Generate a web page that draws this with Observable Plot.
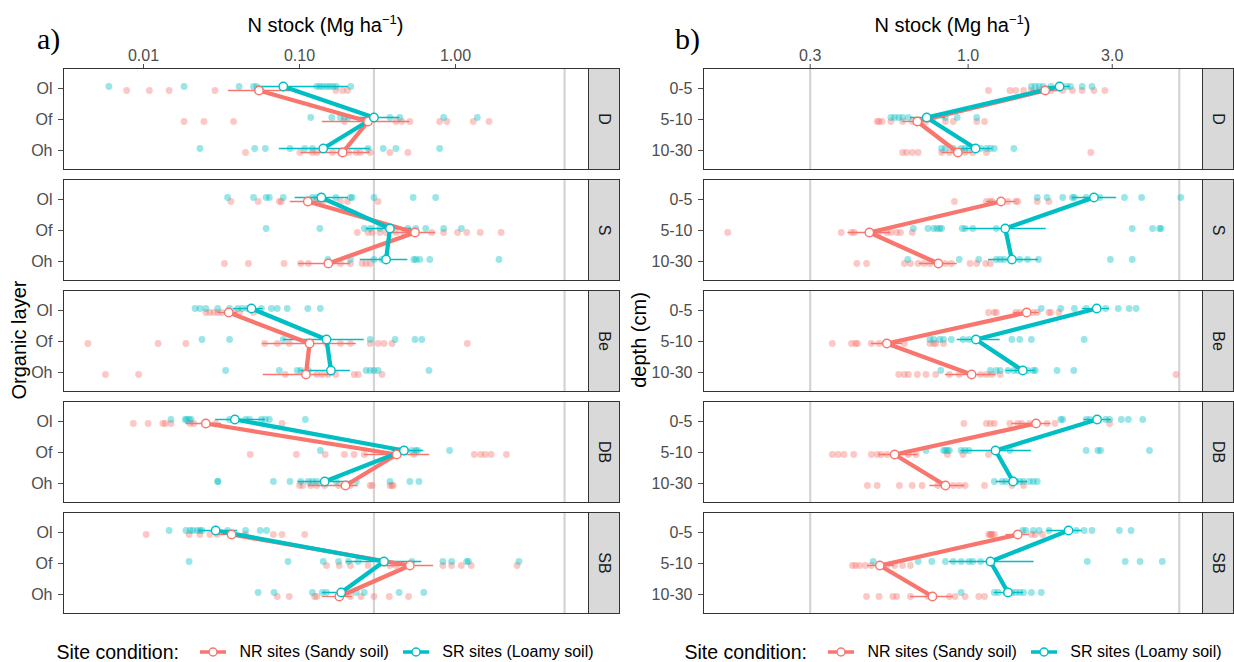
<!DOCTYPE html>
<html>
<head>
<meta charset="utf-8">
<script src="https://cdn.jsdelivr.net/npm/d3@7"></script>
<script src="https://cdn.jsdelivr.net/npm/@observablehq/plot@0.6"></script>
<style>
  html, body { margin: 0; padding: 0; background: white; }
  #wrap { position: relative; width: 1234px; height: 662px; font-family: "Liberation Sans", Arial, sans-serif; overflow: hidden; }
  .panel { position: absolute; top: 0; }
  .legend { position: absolute; top: 636px; height: 32px; width: 800px; display: flex; align-items: center; justify-content: center; color: #000; white-space: nowrap; }
  .legend .lt { font-size: 19.5px; margin-right: 21px; }
  .legend .li { font-size: 16px; margin-left: 13.5px; margin-right: 14px; }
  .legend .li:last-child { margin-right: 0; }
  .legend svg { display: block; }
</style>
</head>
<body>
<div id="wrap">
  <div id="pa" class="panel" style="left:0px"></div>
  <div id="pb" class="panel" style="left:620px"></div>
  <div id="la" class="legend" style="left:-75px"></div>
  <div id="lb" class="legend" style="left:553px"></div>
</div>
<script>
// ---------------- data ----------------
const facets = ["D", "S", "Be", "DB", "SB"];
const layersA = ["Ol", "Of", "Oh"];
const depthsB = ["0-5", "5-10", "10-30"];
const sites = ["NR", "SR"];
const siteLabels = ["NR sites (Sandy soil)", "SR sites (Loamy soil)"];
const legendTitle = "Site condition:";
const refLines = [0.3, 5];
const xTicksA = [0.01, 0.1, 1];
const xTicksB = [0.3, 1, 3];

// panel a raw values [facet][layer]
const rawA_NR = [
  [[0.0078,0.0109,0.0146,0.0287,0.0537,0.057,0.171,0.189,0.203],
   [0.0182,0.0244,0.0378,0.194,0.415,0.453,0.51,0.791,0.88,1.30,1.64],
   [0.0451,0.1006,0.121,0.129,0.163,0.183,0.206,0.231,0.245,0.284,0.38,0.495]],
  [[0.0363,0.0543,0.0742,0.0764,0.129,0.14,0.183,0.203,0.319],
   [0.235,0.275,0.292,0.328,0.359,0.415,0.467,0.51,0.704,0.839,1.03,1.18,1.44,1.96],
   [0.033,0.047,0.0796,0.1018,0.114,0.183,0.212,0.252,0.267,0.284]],
  [[0.0251,0.0266,0.0282,0.0299,0.0317,0.0378,0.0413,0.0507],
   [0.0044,0.0124,0.0187,0.0597,0.072,0.0859,0.149,0.183,0.212,0.284,0.319,0.348,0.392,1.19],
   [0.0057,0.0093,0.081,0.129,0.14,0.153,0.171,0.224,0.238,0.338]],
  [[0.0086,0.0107,0.0133,0.0138,0.015,0.0199,0.021,0.029,0.0773],
   [0.0483,0.0955,0.146,0.194,0.224,0.26,0.541,1.32,1.45,1.55,1.69,2.12],
   [0.1,0.1048,0.118,0.129,0.145,0.178,0.212,0.284,0.292,0.38,0.392,0.398]],
  [[0.0104,0.0196,0.023,0.0266,0.0295,0.0451,0.068,0.0773,0.108],
   [0.149,0.18,0.212,0.275,0.38,0.415,0.83,0.944,1.09,1.26,2.48],
   [0.072,0.0859,0.125,0.129,0.212,0.248,0.30,0.376,0.5]]
];
const rawA_SR = [
  [[0.006,0.0182,0.041,0.0507,0.0531,0.129,0.135,0.141,0.149,0.156,0.164,0.172,0.213],
   [0.118,0.161,0.183,0.194,0.206,0.38,0.44,0.839,1.38],
   [0.023,0.0516,0.0604,0.0869,0.108,0.121,0.275,0.344,0.415,0.791]],
  [[0.0346,0.0507,0.0611,0.0641,0.0787,0.121,0.129,0.171,0.212,0.218,0.30,0.535,0.746],
   [0.0611,0.135,0.26,0.284,0.328,0.495,0.557,0.644,0.839,1.09],
   [0.152,0.212,0.30,0.338,0.541,0.557,0.59,0.684,1.90]],
  [[0.0214,0.023,0.0251,0.0299,0.0356,0.0401,0.043,0.0464,0.057,0.066,0.072,0.0834,0.113,0.136],
   [0.0237,0.0356,0.0787,0.284,0.41,0.55,0.608],
   [0.0336,0.0742,0.0966,0.1018,0.114,0.267,0.284,0.30,0.319,0.676]],
  [[0.015,0.0185,0.0189,0.0196,0.0202,0.0356,0.0451,0.0478,0.057,0.0604,0.0641,0.109],
   [0.136,0.44,0.48,0.525,0.557,0.573,0.916],
   [0.0299,0.030,0.068,0.0869,0.1018,0.114,0.121,0.129,0.172,0.231,0.38,0.51,0.583]],
  [[0.0146,0.0187,0.0199,0.0207,0.0221,0.023,0.0237,0.0346,0.0451,0.056,0.0615],
   [0.0196,0.0844,0.142,0.178,0.206,0.238,0.525,0.83,0.944,1.18,1.21,2.55],
   [0.0543,0.0687,0.121,0.14,0.149,0.231,0.26,0.435,0.626]]
];
const meanA_NR = [[0.055,0.275,0.189],[0.113,0.55,0.153],[0.0352,0.116,0.11],[0.0251,0.42,0.197],[0.0367,0.51,0.18]];
const meanA_SR = [[0.0787,0.30,0.142],[0.138,0.38,0.359],[0.0492,0.149,0.159],[0.0385,0.467,0.145],[0.029,0.348,0.185]];
const loA_NR = [[0.035,0.14,0.102],[0.0873,0.38,0.099],[0.0299,0.058,0.0586],[0.0187,0.26,0.114],[0.029,0.328,0.14]];
const hiA_NR = [[0.087,0.51,0.284],[0.153,0.746,0.212],[0.0401,0.231,0.168],[0.0317,0.684,0.238],[0.0451,0.724,0.218]];
const loA_SR = [[0.053,0.206,0.0742],[0.0938,0.267,0.245],[0.0378,0.0787,0.1018],[0.029,0.392,0.0978],[0.0225,0.2,0.14]];
const hiA_SR = [[0.206,0.44,0.284],[0.206,0.525,0.495],[0.0586,0.26,0.212],[0.0604,0.626,0.218],[0.0401,0.608,0.224]];

// panel b raw values [facet][depth]
const rawB_NR = [
  [[1.168,1.375,1.438,1.526,1.62,1.72,1.88,2.057,2.215,2.386,2.61,2.837],
   [0.5,0.507,0.519,0.555,0.607,0.653,0.725,0.841,0.893,1.068,1.133],
   [0.607,0.625,0.653,0.683,0.817,0.867,0.977,1.036,1.15,2.548]],
  [[0.901,1.15,1.185,1.2,1.355,1.438,1.46,1.694,1.852],
   [0.16,0.38,0.411,0.42,0.492,0.507,0.538,0.555,0.58,0.597,0.653],
   [0.428,0.461,0.615,0.644,0.683,0.714,0.747,0.841,0.88,1.015,1.068,1.143,1.185]],
  [[1.168,1.221,1.239,1.438,1.482,1.644,1.694,1.852,1.88,1.996],
   [0.355,0.411,0.424,0.43,0.478,0.507,0.615,0.747,0.769,0.781,0.829],
   [0.589,0.615,0.634,0.679,0.725,0.781,0.867,0.934,1.1,1.15,1.196,1.277,4.878]],
  [[0.968,1.15,1.185,1.221,1.375,1.46,1.504,1.596,1.825,1.938,2.94],
   [0.355,0.371,0.388,0.418,0.478,0.5,0.515,0.538,0.634,0.673,0.854,0.962,1.168],
   [0.464,0.5,0.592,0.653,0.704,0.793,0.893,0.934,0.977,1.133,1.396,1.526]],
  [[1.168,1.185,1.19,1.2,1.221,1.62,1.669,1.762],
   [0.414,0.424,0.437,0.457,0.478,0.538,0.571,0.607,0.644],
   [0.461,0.507,0.563,0.58,0.644,0.736,0.867,0.906,0.977,1.084,1.133]]
];
const rawB_SR = [
  [[1.62,1.669,1.72,1.772,1.88,2.118,2.182,2.386,2.571],
   [0.555,0.571,0.589,0.607,0.634,0.769,0.841,0.92,1.068],
   [0.817,0.841,0.893,0.948,0.977,1.006,1.1,1.15,1.185,1.221,1.417]],
  [[1.694,1.825,2.057,2.215,2.248,2.459,2.729,3.293,3.753,5.056],
   [0.659,0.736,0.769,0.788,0.805,0.817,0.956,0.977,1.036,1.239,3.494,4.08,4.304,4.356],
   [0.631,0.934,1.084,1.239,1.277,1.315,1.482,1.573,1.71,2.958,3.494]],
  [[1.746,2.026,2.248,2.459,2.854,3.14,3.412,3.6],
   [0.747,0.769,0.805,0.829,0.88,0.962,1.006,1.396,1.482,1.62,2.422],
   [0.812,1.185,1.239,1.277,1.355,1.417,1.46,1.573,1.644,1.669,1.97,2.237]],
  [[2.026,2.057,2.459,2.533,2.854,2.94,3.216,3.392,3.787],
   [0.725,0.829,0.841,0.854,0.867,0.948,0.977,1.006,1.375,2.459,2.689,2.745,3.985],
   [1.221,1.296,1.335,1.438,1.482,1.526,1.596,1.644,1.694]],
  [[1.517,1.55,1.644,1.72,1.852,2.282,2.422,2.571,3.168,3.463],
   [0.485,0.683,0.758,0.841,0.893,0.948,1.006,1.036,1.1,2.481,3.312,3.709,4.395],
   [0.948,1.221,1.258,1.335,1.396,1.438,1.482,1.526,1.62,1.746]]
];
const meanB_NR = [[1.8,0.679,0.925],[1.285,0.471,0.797],[1.563,0.538,1.027],[1.679,0.571,0.841],[1.46,0.51,0.762]];
const meanB_SR = [[2.008,0.729,1.058],[2.61,1.327,1.396],[2.665,1.061,1.517],[2.673,1.232,1.409],[2.15,1.185,1.355]];
const loB_NR = [[1.62,0.607,0.817],[1.15,0.4,0.69],[1.417,0.478,0.841],[1.396,0.507,0.747],[1.335,0.464,0.644]];
const hiB_NR = [[2.057,0.769,1.036],[1.438,0.555,0.92],[1.72,0.607,1.239],[1.88,0.683,0.977],[1.596,0.571,0.893]];
const loB_SR = [[1.825,0.644,0.948],[2.215,0.977,1.168],[2.386,0.92,1.335],[2.422,0.948,1.239],[1.825,0.867,1.221]];
const hiB_SR = [[2.182,0.841,1.2],[3.102,1.814,1.71],[2.94,1.277,1.669],[2.984,1.62,1.573],[2.386,1.654,1.526]];

// ---------------- styling ----------------
const siteColor = {NR: "#F8766D", SR: "#00BFC4"};
const siteShift = {NR: 2, SR: -2};

function build(rows, raw, m, lo, hi) {
  const pts = [], mns = [];
  for (const s of sites) facets.forEach((f, i) => rows.forEach((r, j) => {
    for (const v of raw[s][i][j]) pts.push({site: s, f, r, v});
    mns.push({site: s, f, r, m: m[s][i][j], lo: lo[s][i][j], hi: hi[s][i][j]});
  }));
  return {pts, mns};
}

function drawPanel(el, cfg) {
  const {pts, mns} = build(cfg.rows, cfg.raw, cfg.m, cfg.lo, cfg.hi);
  const of = (arr, s) => arr.filter(d => d.site === s);
  const marks = [Plot.ruleX(refLines, {stroke: "#d4d4d4", strokeWidth: 2.2})];
  for (const s of sites) marks.push(Plot.dot(of(pts, s), {x: "v", y: "r", fy: "f", r: 3.4, fill: siteColor[s], fillOpacity: 0.4, dy: siteShift[s]}));
  for (const s of sites) marks.push(Plot.ruleY(of(mns, s), {x1: "lo", x2: "hi", y: "r", fy: "f", stroke: siteColor[s], strokeWidth: 1.3, dy: siteShift[s]}));
  for (const s of sites) marks.push(Plot.line(of(mns, s), {x: "m", y: "r", fy: "f", stroke: siteColor[s], strokeWidth: 4.3, dy: siteShift[s]}));
  for (const s of sites) marks.push(Plot.dot(of(mns, s), {x: "m", y: "r", fy: "f", r: 4.2, fill: "white", stroke: siteColor[s], strokeWidth: 1.4, dy: siteShift[s]}));
  marks.push(Plot.frame({stroke: "#333", strokeWidth: 1}));

  const chart = Plot.plot({
    width: cfg.width, height: 630,
    marginTop: 67, marginBottom: 17, marginLeft: cfg.marginLeft, marginRight: 32,
    style: {fontFamily: "'Liberation Sans', Arial, sans-serif", fontSize: "16px", color: "#4d4d4d", background: "white"},
    x: {type: "log", domain: cfg.xDomain, axis: "top", ticks: cfg.xTicks, tickFormat: cfg.fmt, tickSize: 5, tickPadding: 3, label: null},
    y: {type: "point", domain: cfg.rows, padding: 0.6, tickSize: 5, tickPadding: 6, label: null},
    fy: {domain: facets, paddingInner: 0.094, paddingOuter: 0, axis: null, label: null},
    marks
  });
  el.appendChild(chart);
  const svg = chart.tagName.toLowerCase() === "svg" ? chart : chart.querySelector("svg");
  const sr = svg.getBoundingClientRect();
  const W = cfg.width;
  const seen = new Set();
  const frames = Array.from(svg.querySelectorAll('[aria-label="frame"] rect, rect[aria-label="frame"]'))
    .map(n => n.getBoundingClientRect())
    .filter(r => r.height > 10 && r.height < 200)
    .sort((a, b) => a.top - b.top)
    .filter(r => { const k = Math.round(r.top); if (seen.has(k)) return false; seen.add(k); return true; });
  const g = d3.select(svg).append("g");
  const fyDomain = chart.scale("fy").domain;
  frames.forEach((r, i) => {
    const x = r.right - sr.left, y = r.top - sr.top;
    g.append("rect").attr("x", x).attr("y", y).attr("width", W - x - 0.5).attr("height", r.height)
      .attr("fill", "#d9d9d9").attr("stroke", "#333").attr("stroke-width", 1);
    g.append("text").attr("transform", `translate(${(x + W) / 2},${y + r.height / 2}) rotate(90)`)
      .attr("text-anchor", "middle").attr("dy", "0.35em").attr("fill", "#1a1a1a")
      .attr("font-size", 16).text(fyDomain[i]);
  });
  // panel tag, axis titles
  const t = d3.select(svg).append("g").attr("fill", "#000");
  t.append("text").attr("x", cfg.tagX).attr("y", 49).attr("text-anchor", "start")
    .attr("font-family", "'Liberation Serif', 'DejaVu Serif', serif")
    .attr("font-size", 30).text(cfg.tag);
  const cx = cfg.marginLeft + (W - 32 - cfg.marginLeft) / 2;
  const title = t.append("text").attr("x", cx).attr("y", 32).attr("text-anchor", "middle").attr("font-size", 20);
  title.append("tspan").text("N stock (Mg ha");
  title.append("tspan").attr("font-size", 13).attr("dy", -8).text("\u22121");
  title.append("tspan").attr("dy", 8).text(")");
  t.append("text").attr("transform", `translate(18.5,340) rotate(-90)`).attr("text-anchor", "middle")
    .attr("dy", "0.35em").attr("font-size", 20).text(cfg.ytitle);
}

function drawLegend(el) {
  const box = d3.select(el);
  box.append("span").attr("class", "lt").text(legendTitle);
  sites.forEach((s, i) => {
    const k = box.append("svg").attr("width", 26).attr("height", 16);
    k.append("line").attr("x1", 0).attr("x2", 26).attr("y1", 8).attr("y2", 8).attr("stroke", siteColor[s]).attr("stroke-width", 3.5);
    k.append("circle").attr("cx", 13).attr("cy", 8).attr("r", 4).attr("fill", "white").attr("stroke", siteColor[s]).attr("stroke-width", 1.4);
    box.append("span").attr("class", "li").text(siteLabels[i]);
  });
}

drawPanel(document.getElementById("pa"), {
  width: 620, marginLeft: 63, rows: layersA, xDomain: [0.00307, 7.12], xTicks: xTicksA, fmt: d3.format(".2f"),
  raw: {NR: rawA_NR, SR: rawA_SR}, m: {NR: meanA_NR, SR: meanA_SR}, lo: {NR: loA_NR, SR: loA_SR}, hi: {NR: hiA_NR, SR: hiA_SR},
  tag: "a)", tagX: 37, ytitle: "Organic layer"
});
drawPanel(document.getElementById("pb"), {
  width: 614, marginLeft: 83, rows: depthsB, xDomain: [0.133, 5.97], xTicks: xTicksB, fmt: d3.format(".1f"),
  raw: {NR: rawB_NR, SR: rawB_SR}, m: {NR: meanB_NR, SR: meanB_SR}, lo: {NR: loB_NR, SR: loB_SR}, hi: {NR: hiB_NR, SR: hiB_SR},
  tag: "b)", tagX: 55, ytitle: "depth (cm)"
});
drawLegend(document.getElementById("la"));
drawLegend(document.getElementById("lb"));
</script>
</body>
</html>
